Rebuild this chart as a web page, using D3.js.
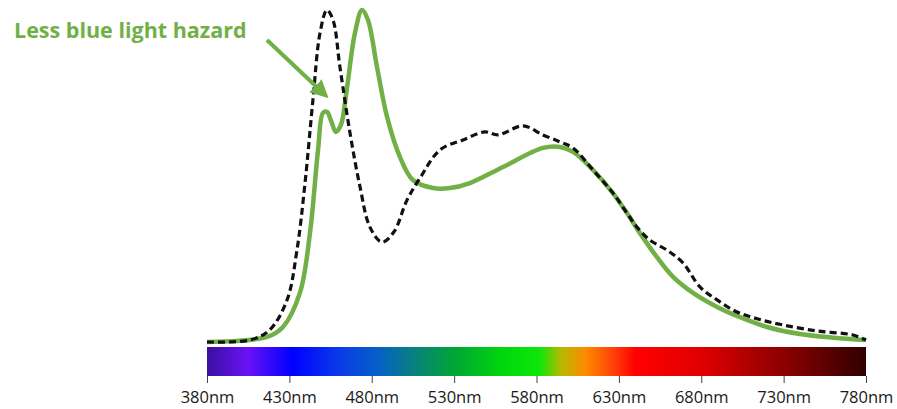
<!DOCTYPE html>
<html>
<head>
<meta charset="utf-8">
<script src="https://cdn.jsdelivr.net/npm/d3@7"></script>
<style>
  body { margin: 0; background: #fff; }
  .tick text { font-family: "Open Sans", sans-serif; font-size: 16.5px; fill: #1a1a1a; }
  .tick line { stroke: #444; }
</style>
</head>
<body>
<div id="chart"></div>
<script>
// spectrum values (relative intensity, peak = 1)

var blackNm = [380, 406, 418, 428.6, 434.6, 439.5, 444.3, 448.6, 452.8, 456.5, 460.7, 466.8, 472.9, 478.9, 486.2, 493.5, 501.4, 509.3, 521.4, 535.4, 548.7, 556.6, 571.8, 583.9, 594.3, 602.2, 614.3, 626.4, 634.9, 641, 648.9, 659.2, 668.9, 679.2, 689.6, 701.7, 715, 729.6, 750.3, 772.1, 780];
var blackVal = [0.0, 0.006, 0.036, 0.126, 0.275, 0.476, 0.725, 0.925, 0.994, 0.964, 0.823, 0.626, 0.464, 0.344, 0.299, 0.33, 0.425, 0.491, 0.575, 0.605, 0.629, 0.62, 0.647, 0.62, 0.599, 0.581, 0.515, 0.446, 0.386, 0.344, 0.305, 0.275, 0.237, 0.165, 0.126, 0.09, 0.068, 0.051, 0.033, 0.021, 0.006];

var greenNm = [380, 416.4, 426.1, 436.4, 442.5, 447.4, 450.4, 452.8, 455.5, 458.2, 461.3, 464.4, 469.8, 474.1, 477.7, 483.2, 489.3, 497.1, 505, 517.2, 527.5, 539.6, 559.7, 583.9, 594.3, 602.2, 614.3, 626.4, 634.9, 642.8, 653.1, 662.9, 675, 689.6, 701.7, 719.9, 739.9, 760, 780];
var greenVal = [0.0, 0.015, 0.045, 0.147, 0.326, 0.575, 0.686, 0.689, 0.66, 0.629, 0.65, 0.74, 0.925, 0.994, 0.964, 0.823, 0.674, 0.554, 0.485, 0.461, 0.461, 0.476, 0.524, 0.581, 0.584, 0.569, 0.515, 0.446, 0.386, 0.326, 0.254, 0.195, 0.147, 0.105, 0.078, 0.045, 0.024, 0.013, 0.006];

var tickNm = [380, 430, 480, 530, 580, 630, 680, 730, 780];

// colour bar stops
var stopNm = [380, 405, 432, 460, 485, 505, 530, 560, 582, 595, 610, 628, 640, 680, 730, 780];
var stopColor = ["#3b0fa0", "#6a12f5", "#0000ff", "#0a3ae8", "#0562c4", "#088080", "#00a535", "#00d80c", "#0ee60a", "#b8b800", "#ff8a00", "#ff3a08", "#ff0000", "#e00000", "#8c0000", "#300000"];

var label = "Less blue light hazard";
var green = "#71b046";

var W = 897, H = 409;
var plotLeft = 207, plotRight = 866, plotTop = 8, plotBase = 342;

var x = d3.scaleLinear().domain([380, 780]).range([plotLeft, plotRight]);
var y = d3.scaleLinear().domain([0, 1]).range([plotBase, plotTop]);

var svg = d3.select("#chart").append("svg")
  .attr("width", W)
  .attr("height", H);

var defs = svg.append("defs");

var grad = defs.append("linearGradient")
  .attr("id", "spectrum")
  .attr("gradientUnits", "userSpaceOnUse")
  .attr("x1", x(380)).attr("x2", x(780))
  .attr("y1", 0).attr("y2", 0);

grad.selectAll("stop")
  .data(stopNm)
  .enter().append("stop")
  .attr("offset", function(d) { return (d - 380) / 400; })
  .attr("stop-color", function(d, i) { return stopColor[i]; });

defs.append("marker")
  .attr("id", "head")
  .attr("viewBox", "0 0 10 10")
  .attr("refX", 5).attr("refY", 5)
  .attr("markerWidth", 4.5).attr("markerHeight", 4.5)
  .attr("orient", "auto")
  .append("path")
  .attr("d", "M0,0 L10,5 L0,10 z")
  .attr("fill", green);

// colour bar
svg.append("rect")
  .attr("x", x(380))
  .attr("y", 347)
  .attr("width", x(780) - x(380))
  .attr("height", 29)
  .attr("fill", "url(#spectrum)");

// axis under the bar
var axis = svg.append("g")
  .attr("transform", "translate(0,376)")
  .call(d3.axisBottom(x)
    .tickValues(tickNm)
    .tickSize(7)
    .tickPadding(8)
    .tickFormat(function(d) { return d + "nm"; }));
axis.select(".domain").remove();

var line = d3.line()
  .x(function(d) { return x(d[0]); })
  .y(function(d) { return y(d[1]); })
  .curve(d3.curveCatmullRom.alpha(0.5));

svg.append("path")
  .datum(d3.zip(greenNm, greenVal))
  .attr("d", line)
  .attr("fill", "none")
  .attr("stroke", green)
  .attr("stroke-width", 4.5)
  .attr("stroke-linejoin", "round");

svg.append("path")
  .datum(d3.zip(blackNm, blackVal))
  .attr("d", line)
  .attr("fill", "none")
  .attr("stroke", "#111")
  .attr("stroke-width", 3.2)
  .attr("stroke-dasharray", "7,4");

// annotation
svg.append("text")
  .attr("x", 14)
  .attr("y", 38)
  .attr("font-family", "Open Sans, sans-serif")
  .attr("font-weight", "bold")
  .attr("font-size", 21.5)
  .attr("fill", green)
  .text(label);

svg.append("line")
  .attr("x1", 267).attr("y1", 40)
  .attr("x2", 322).attr("y2", 92)
  .attr("stroke", green)
  .attr("stroke-width", 4)
  .attr("marker-end", "url(#head)");
</script>
</body>
</html>
